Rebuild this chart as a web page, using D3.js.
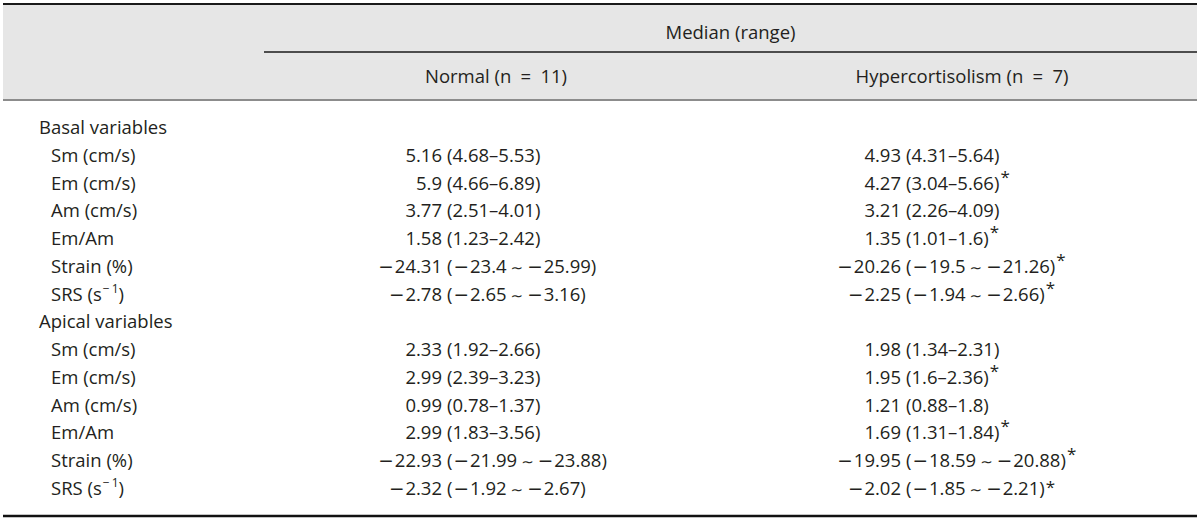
<!DOCTYPE html>
<html lang="en">
<head>
<meta charset="UTF-8">
<script src="https://cdnjs.cloudflare.com/ajax/libs/d3/7.8.5/d3.min.js"></script>
<title>Median (range)</title>
<style>
  body { margin: 0; background: #fff; }
  svg text { font-family: 'Open Sans', 'Noto Sans', sans-serif; fill: #231f20; }
  svg .sym { font-family: 'DejaVu Sans', sans-serif; }
</style>
</head>
<body>
<svg id="tbl"></svg>
<script>
// table content
const sections = ['Basal variables', 'Apical variables']
const variables = ['Sm (cm/s)', 'Em (cm/s)', 'Am (cm/s)', 'Em/Am', 'Strain (%)', 'SRS']
const groups = ['Normal (n\u2002=\u200211)', 'Hypercortisolism (n\u2002=\u20027)']

// values kept as printed strings (e.g. "5.9", "1.6")
const normalMedian = ['5.16', '5.9', '3.77', '1.58', '-24.31', '-2.78',
                      '2.33', '2.99', '0.99', '2.99', '-22.93', '-2.32']
const normalLow    = ['4.68', '4.66', '2.51', '1.23', '-23.4', '-2.65',
                      '1.92', '2.39', '0.78', '1.83', '-21.99', '-1.92']
const normalHigh   = ['5.53', '6.89', '4.01', '2.42', '-25.99', '-3.16',
                      '2.66', '3.23', '1.37', '3.56', '-23.88', '-2.67']
const hyperMedian  = ['4.93', '4.27', '3.21', '1.35', '-20.26', '-2.25',
                      '1.98', '1.95', '1.21', '1.69', '-19.95', '-2.02']
const hyperLow     = ['4.31', '3.04', '2.26', '1.01', '-19.5', '-1.94',
                      '1.34', '1.6', '0.88', '1.31', '-18.59', '-1.85']
const hyperHigh    = ['5.64', '5.66', '4.09', '1.6', '-21.26', '-2.66',
                      '2.31', '2.36', '1.8', '1.84', '-20.88', '-2.21']
const hyperSig     = [false, true, false, true, true, true,
                      false, true, false, true, true, true]

const W = 1200, H = 518
const left = 3, right = 1197
const fs = 18.5

const svg = d3.select('#tbl').attr('width', W).attr('height', H)

// build the row list: section header followed by its variables
const rows = []
sections.forEach((s, si) => {
    rows.push({ type: 'section', label: s })
    variables.forEach((v, vi) => {
        const i = si * variables.length + vi
        rows.push({
            type: 'var', label: v,
            cells: [
                { med: normalMedian[i], lo: normalLow[i], hi: normalHigh[i], sig: false },
                { med: hyperMedian[i], lo: hyperLow[i], hi: hyperHigh[i], sig: hyperSig[i] }
            ],
            last: i === normalMedian.length - 1
        })
    })
})

const y = d3.scalePoint().domain(d3.range(rows.length)).range([134, 495])
const colX = d3.scaleOrdinal().domain(groups).range([447, 906])   // "(" alignment
const headX = d3.scaleOrdinal().domain(groups).range([496, 962])

// write a number into a text node, wide minus sign for negatives
function addNum(t, s, pre, post, gap) {
    if (pre) t.append('tspan').text(pre)
    if (s.startsWith('-')) {
        t.append('tspan').attr('class', 'sym').attr('dx', gap || 0).text('\u2212')
        t.append('tspan').attr('dx', 1).text(s.slice(1) + (post || ''))
    } else {
        t.append('tspan').text(s + (post || ''))
    }
}

// header band
svg.append('rect')
    .attr('x', left).attr('y', 5)
    .attr('width', right - left).attr('height', 95)
    .attr('fill', '#e6e6e6')

svg.append('line')
    .attr('x1', left).attr('x2', right).attr('y1', 4).attr('y2', 4)
    .attr('stroke', '#1a1a1a').attr('stroke-width', 2)
svg.append('line')
    .attr('x1', 264).attr('x2', right).attr('y1', 52).attr('y2', 52)
    .attr('stroke', '#1a1a1a').attr('stroke-width', 1.5)
svg.append('line')
    .attr('x1', left).attr('x2', right).attr('y1', 100).attr('y2', 100)
    .attr('stroke', '#8c8c8c').attr('stroke-width', 2)
svg.append('line')
    .attr('x1', left).attr('x2', right).attr('y1', 516).attr('y2', 516)
    .attr('stroke', '#111').attr('stroke-width', 2.5)

svg.append('text')
    .attr('x', (264 + right) / 2).attr('y', 39)
    .attr('text-anchor', 'middle').attr('font-size', fs)
    .text('Median (range)')

svg.selectAll('.ghead')
    .data(groups)
    .enter()
    .append('text')
    .attr('class', 'ghead')
    .attr('x', d => headX(d)).attr('y', 83)
    .attr('text-anchor', 'middle').attr('font-size', fs)
    .text(d => d)

// row labels
const lab = svg.selectAll('.lab')
    .data(rows)
    .enter()
    .append('text')
    .attr('class', 'lab')
    .attr('x', d => d.type === 'section' ? 39 : 51)
    .attr('y', (d, i) => y(i))
    .attr('font-size', fs)

lab.append('tspan').text(d => d.label)
lab.filter(d => d.label === 'SRS').each(function() {
    const t = d3.select(this)
    t.append('tspan').text(' (s')
    t.append('tspan').attr('font-size', 12).attr('dy', -8).attr('dx', 1).text('\u2212\u20091')
    t.append('tspan').attr('dy', 8).text(')')
})

// value cells
rows.forEach((r, i) => {
    if (r.type !== 'var') return
    r.cells.forEach((c, ci) => {
        const px = colX(groups[ci])
        const m = svg.append('text')
            .attr('x', px - 5).attr('y', y(i))
            .attr('text-anchor', 'end').attr('font-size', fs)
        addNum(m, c.med)
        const neg = c.lo.startsWith('-')
        const t = svg.append('text')
            .attr('x', px).attr('y', y(i))
            .attr('font-size', fs)
        addNum(t, c.lo, '(', '', 1)
        if (neg) {
            t.append('tspan').attr('class', 'sym').attr('font-size', 15)
                .attr('dx', 4).text('\u223c')
            addNum(t, c.hi, '', ')', 4)
        } else {
            t.append('tspan').text('\u2013')
            addNum(t, c.hi, '', ')')
        }
        if (c.sig) {
            const up = r.last ? -2 : -7
            t.append('tspan').attr('font-size', 17).attr('dx', 1).attr('dy', up).text('*')
        }
    })
})
</script>
</body>
</html>
